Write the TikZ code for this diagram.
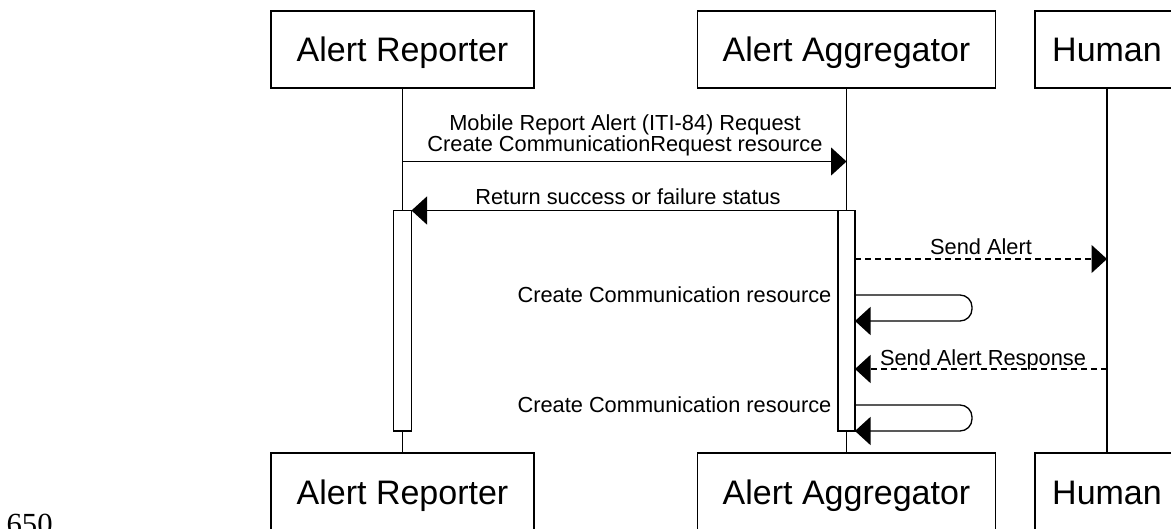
\documentclass[tikz,border=0pt]{standalone}
\usepackage{fontspec}
\setmainfont{Liberation Sans}
\newfontfamily\serifpg{Liberation Serif}
\usetikzlibrary{arrows.meta}
\tikzset{
  x=1pt, y=-1pt,
  every path/.style={line width=1.3pt},
  actor/.style={draw, fill=white, line width=1.3pt, minimum width=#1, minimum height=77pt,
    inner sep=0pt, outer sep=0pt, font=\fontsize{34}{40}\selectfont, text height=25pt, text depth=0pt},
  bar/.style={draw, fill=white, line width=1.3pt, minimum width=#1, inner sep=0pt, outer sep=0pt},
  lbl/.style={inner sep=0pt, font=\fontsize{21.8}{18}\selectfont},
  msg/.style={-{Triangle[length=15.5pt,width=28pt]}},
  dsh/.style={dash pattern=on 6pt off 4pt},
}
\begin{document}
\begin{tikzpicture}
\useasboundingbox (0,0) rectangle (1171,529);
% actors
\node[actor=263pt] (repT) at (402.5,49.5) {Alert Reporter};
\node[actor=298pt] (aggT) at (846.5,49.5) {Alert Aggregator};
\node[actor=144pt] (humT) at (1107,49.5) {Human};
\node[actor=263pt] (repB) at (402.5,491.5) {Alert Reporter};
\node[actor=298pt] (aggB) at (846.5,491.5) {Alert Aggregator};
\node[actor=144pt] (humB) at (1107,491.5) {Human};
% lifelines
\draw (repT) -- (repB);
\draw (aggT) -- (aggB);
\draw (humT) -- (humB);
% activation bars
\node[bar=18pt, minimum height=220.5pt] (barR) at (402.5,320.75) {};
\node[bar=17pt, minimum height=220.5pt] (barA) at (846.5,320.75) {};
% message 1
\coordinate (m1s) at (402.5,161.5);
\coordinate (m1e) at (846.5,161.5);
\draw[msg] (m1s) -- (m1e);
\node[lbl, align=center, anchor=base] (m1l) at (625,152) {Mobile Report Alert (ITI-84) Request\\Create CommunicationRequest resource};
% message 2
\coordinate (m2s) at (846.5,210.5);
\draw[msg] (m2s) -- (barR.north east);
\node[lbl, anchor=base] (m2l) at (628,205) {Return success or failure status};
% message 3
\coordinate (m3s) at (855,259);
\coordinate (m3e) at (1107,259);
\draw[msg, dsh] (m3s) -- (m3e);
\node[lbl, anchor=base] (m3l) at (981,254.5) {Send Alert};
% self 1
\coordinate (s1a) at (855,295);
\coordinate (s1b) at (855,321);
\draw[msg, rounded corners=12pt] (s1a) -- (972,295) -- (972,321) -- (s1b);
\node[lbl, anchor=base east] (s1l) at (832,302.5) {Create Communication resource};
% message 4
\coordinate (m4s) at (1107,369);
\coordinate (m4e) at (855,369);
\draw[msg, dsh] (m4s) -- (m4e);
\node[lbl, anchor=base] (m4l) at (983,365.5) {Send Alert Response};
% self 2
\coordinate (s2a) at (855,405);
\coordinate (s2b) at (855,431);
\draw[msg, rounded corners=12pt] (s2a) -- (972,405) -- (972,431) -- (s2b);
\node[lbl, anchor=base east] (s2l) at (832,413) {Create Communication resource};
% page number
\node[inner sep=0pt, anchor=base west, font=\serifpg\fontsize{30.7}{31}\selectfont] (pg) at (6,534) {650};
\end{tikzpicture}
\end{document}
